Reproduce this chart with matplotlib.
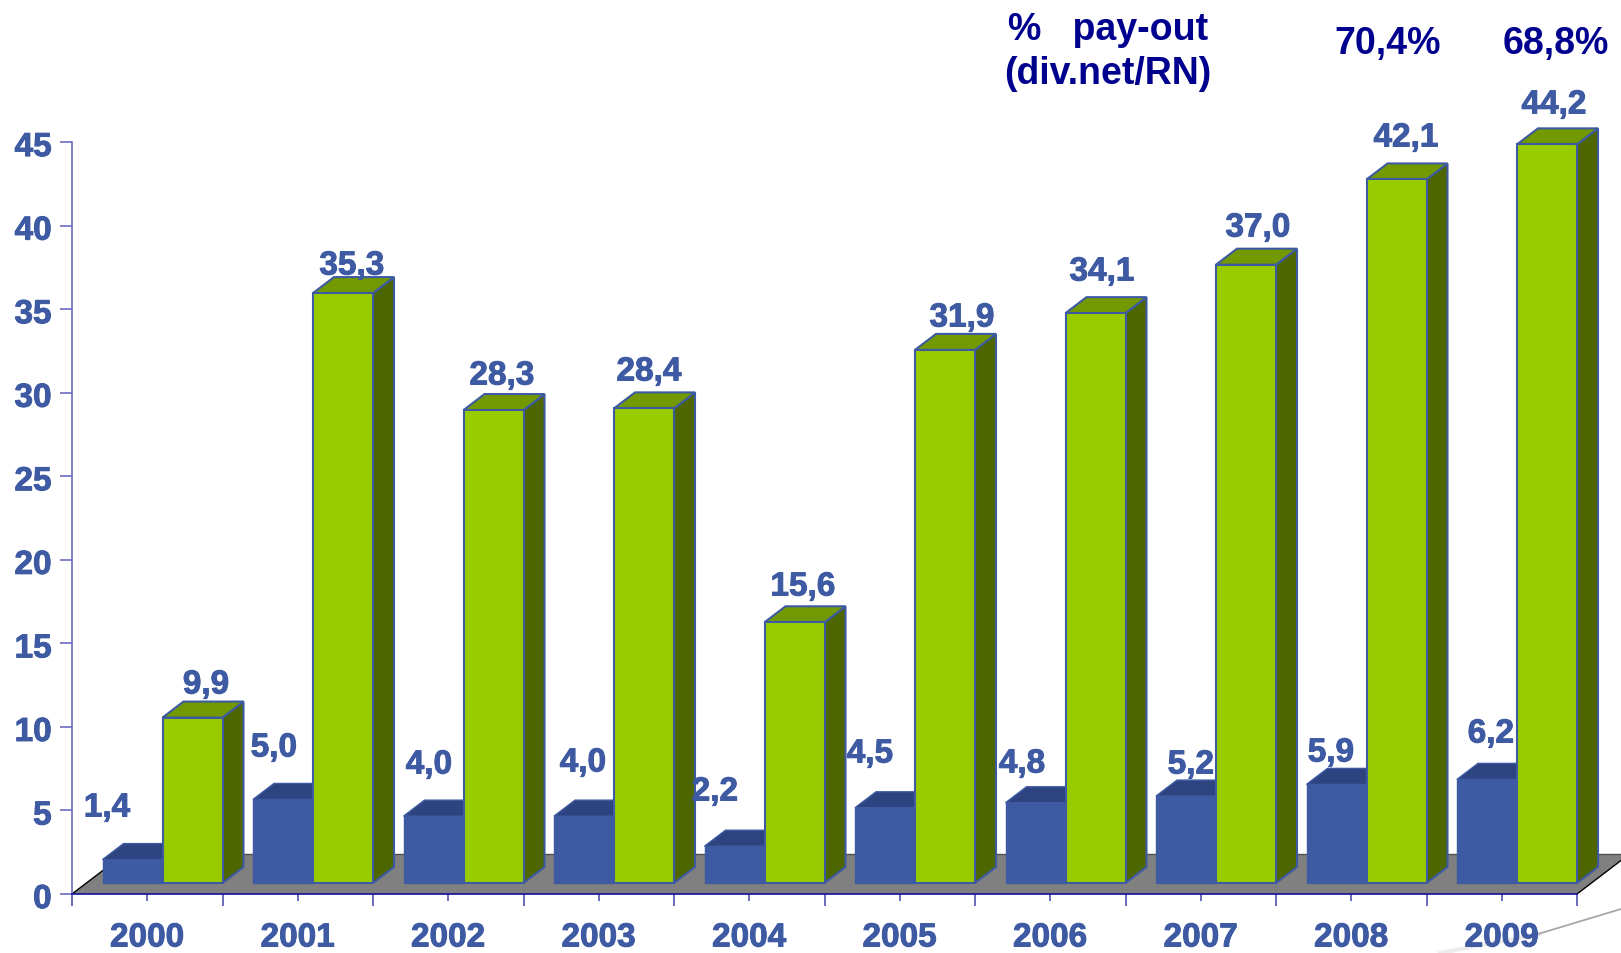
import numpy as np
import matplotlib
matplotlib.use('Agg')
import matplotlib.pyplot as plt
import matplotlib.patheffects as pe
from matplotlib.transforms import ScaledTranslation

# values
years = ['2000', '2001', '2002', '2003', '2004', '2005', '2006', '2007', '2008', '2009']
blue_vals = [1.4, 5.0, 4.0, 4.0, 2.2, 4.5, 4.8, 5.2, 5.9, 6.2]
green_vals = [9.9, 35.3, 28.3, 28.4, 15.6, 31.9, 34.1, 37.0, 42.1, 44.2]
payout_labels = ['70,4%', '68,8%']
y_ticks = [0, 5, 10, 15, 20, 25, 30, 35, 40, 45]

# label centres in image pixels, they do not follow the bars in any regular way
blue_lab_px = [(107, 809), (274, 749), (429, 766), (583, 764), (715, 793),
               (870, 755), (1022, 765), (1191, 766), (1331, 754), (1491, 735)]
green_lab_px = [(206, 686), (352, 267), (502, 377), (649, 373), (803, 588),
                (962, 319), (1102, 273), (1258, 229), (1406, 139), (1554, 106)]

W, H = 1621, 954
BLUE_TXT = '#3d5aa3'
NAVY = '#00008f'
plt.rcParams['font.family'] = ['Liberation Sans', 'DejaVu Sans']
plt.rcParams['font.weight'] = 'bold'

fig = plt.figure(figsize=(W / 100, H / 100), dpi=100)
# y=0 at 895 px, y=45 at 143 px, axis from x=72 to x=1577
ax = fig.add_axes([72 / W, 1 - 895 / H, (1577 - 72) / W, (895 - 143) / H])
ax.set_xlim(0, 10)
ax.set_ylim(0, 45)
ax.patch.set_alpha(0)

px_x = 10 / (1577 - 72)
px_y = 45 / (895 - 143)
dx, dy = 21 * px_x, 16 * px_y   # 3d depth of the bars
base = 11 * px_y                # bars stand a bit above the axis
bw = 60 * px_x
off = 30.5 * px_x

# smear from the slide background, bottom right
fig.add_artist(plt.Line2D([1440 / W, 1540 / W], [1 - 954 / H, 1 - 935 / H], color='#ececec', lw=3, zorder=-1))
fig.add_artist(plt.Line2D([1538 / W, 1621 / W], [1 - 935 / H, 1 - 910 / H], color='#a8a8a8', lw=1.3, zorder=-1))

# floor
fx, fy = 52.5 * px_x, 40 * px_y
ax.fill([0, 10, 10 + fx, fx], [0, 0, fy, fy], color='#808080', lw=0, clip_on=False, zorder=1)
ax.plot([0, fx], [0, fy], color='black', lw=1, clip_on=False, zorder=1)
ax.plot([10, 10 + fx], [0, fy], color='black', lw=1, clip_on=False, zorder=1)
ax.plot([fx, 10 + fx], [fy, fy], color='#505050', lw=1, clip_on=False, zorder=1)

edge = BLUE_TXT
x = np.arange(len(years))
for i in x:
    xb = i + off
    xg = xb + bw
    b = blue_vals[i] + base
    g = green_vals[i] + base
    ax.bar(xb, blue_vals[i], bw, bottom=base, align='edge', color='#3d5aa3', edgecolor=edge, lw=1, clip_on=False, zorder=2)
    ax.fill([xb, xg, xg + dx, xb + dx], [b, b, b + dy, b + dy], facecolor='#2d4480', edgecolor=edge, lw=1, clip_on=False, zorder=2)
    ax.fill([xg + bw, xg + bw + dx, xg + bw + dx, xg + bw], [base, base + dy, g + dy, g], facecolor='#4d6600', edgecolor=edge, lw=1.5, clip_on=False, zorder=3)
    ax.fill([xg, xg + bw, xg + bw + dx, xg + dx], [g, g, g + dy, g + dy], facecolor='#739900', edgecolor=edge, lw=1.5, clip_on=False, zorder=3)
    ax.bar(xg, green_vals[i], bw, bottom=base, align='edge', color='#99cc00', edgecolor=edge, lw=1.5, clip_on=False, zorder=3)

for s in ['top', 'right']:
    ax.spines[s].set_visible(False)
ax.spines['left'].set_color('#6c6cc0')
ax.spines['left'].set_linewidth(1.2)
ax.spines['bottom'].set_color('#10109a')
ax.spines['bottom'].set_linewidth(1.2)
ax.spines['bottom'].set_zorder(4)

thick = [pe.withStroke(linewidth=0.7, foreground=BLUE_TXT)]

ax.set_yticks(y_ticks)
ax.tick_params(axis='y', length=8.6, width=1.2, color='#6c6cc0', labelsize=24, labelcolor=BLUE_TXT, pad=6)
ax.set_xticks(np.arange(0, 11))
ax.set_xticklabels([])
ax.set_xticks(x + 0.5, minor=True)
ax.set_xticklabels(years, minor=True)
ax.tick_params(axis='x', which='major', length=8.6, width=1.2, color='#5050b0')
ax.tick_params(axis='x', which='minor', length=5, width=1.2, color='#5050b0', labelsize=24, labelcolor=BLUE_TXT, pad=15.5)
down = ScaledTranslation(0, -1.5 / 72, fig.dpi_scale_trans)
for lab in ax.get_yticklabels():
    lab.set_transform(lab.get_transform() + down)
    lab.set_path_effects(thick)
for lab in ax.get_xticklabels(minor=True):
    lab.set_path_effects(thick)

for vals, pos in [(blue_vals, blue_lab_px), (green_vals, green_lab_px)]:
    for v, (px, py) in zip(vals, pos):
        fig.text(px / W, 1 - py / H, f'{v:.1f}'.replace('.', ','), color=BLUE_TXT, fontsize=24,
                 ha='center', va='center', zorder=6, path_effects=thick)

fig.text(1108 / W, 1 - 30 / H, '%   pay-out', color=NAVY, fontsize=27, ha='center', va='center')
fig.text(1108 / W, 1 - 74 / H, '(div.net/RN)', color=NAVY, fontsize=27, ha='center', va='center')
fig.text(1388 / W, 1 - 44 / H, payout_labels[0], color=NAVY, fontsize=27, ha='center', va='center')
fig.text(1556 / W, 1 - 44 / H, payout_labels[1], color=NAVY, fontsize=27, ha='center', va='center')

fig.savefig('out.png', dpi=100)
